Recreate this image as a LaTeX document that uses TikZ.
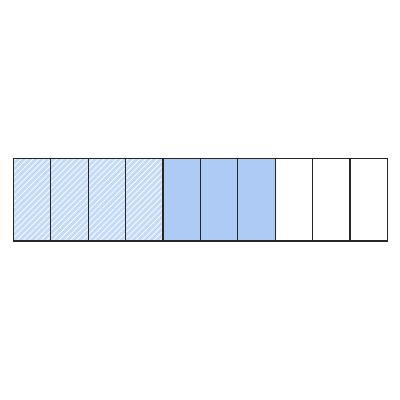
\documentclass[tikz,border=0pt]{standalone}
\usetikzlibrary{patterns.meta}
\definecolor{hatchblue}{HTML}{C6DBF8}
\definecolor{solidblue}{HTML}{AECBF6}
\tikzset{
  cell/.style={draw=black!85, line width=1.2pt, minimum width=37.4pt, minimum height=82.7pt, inner sep=0pt, outer sep=0pt},
  hatched/.style={cell, preaction={fill=hatchblue}, preaction={pattern={Lines[angle=45,distance=4.2pt,line width=0.7pt]}, pattern color=white}},
  solid/.style={cell, fill=solidblue},
  empty/.style={cell, fill=white}
}
\begin{document}
\begin{tikzpicture}[x=1pt,y=-1pt]
\useasboundingbox (0,0) rectangle (400,400);
\foreach \i in {0,...,3}{
  \node[hatched] (c\i) at ({13.3+37.4*\i+18.7},199.7) {};
}
\foreach \i in {4,...,6}{
  \node[solid] (c\i) at ({13.3+37.4*\i+18.7},199.7) {};
}
\foreach \i in {7,...,9}{
  \node[empty] (c\i) at ({13.3+37.4*\i+18.7},199.7) {};
}
\end{tikzpicture}
\end{document}
